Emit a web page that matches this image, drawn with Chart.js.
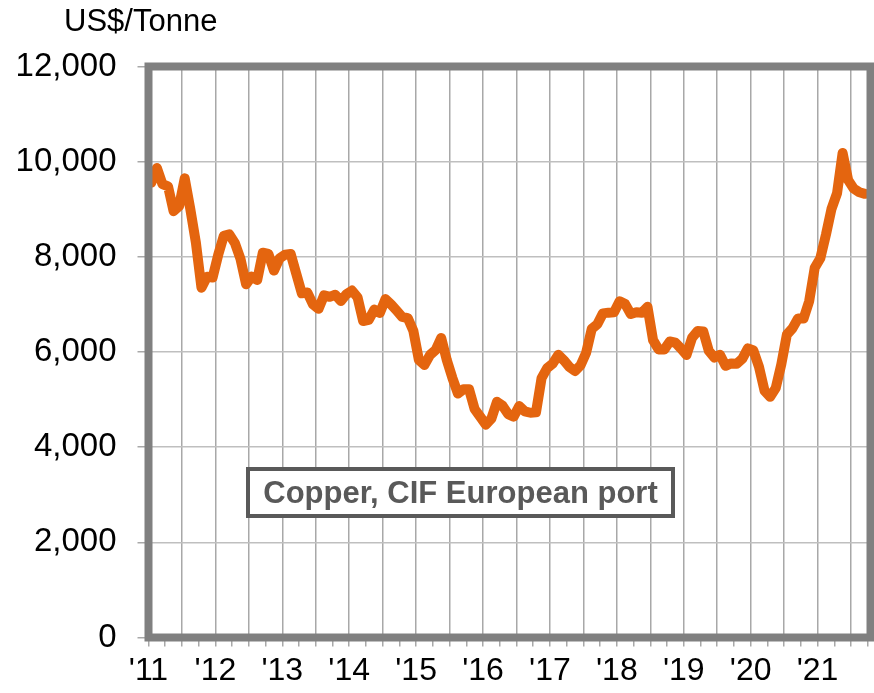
<!DOCTYPE html>
<html>
<head>
<meta charset="utf-8">
<script src="https://cdn.jsdelivr.net/npm/chart.js@4"></script>
<style>
  html, body { margin: 0; padding: 0; background: #fff; }
  canvas { display: block; }
</style>
</head>
<body>
<canvas id="copperChart" width="874" height="693"></canvas>
<script>
// monthly copper price, US$/tonne, Jan 2011 - Sep 2021
const prices2011 = [9556, 9868, 9530, 9483, 8960, 9067, 9650, 9001, 8300, 7350, 7581, 7566];
const prices2012 = [8040, 8441, 8471, 8289, 7956, 7423, 7584, 7515, 8088, 8062, 7711, 7967];
const prices2013 = [8047, 8061, 7646, 7234, 7249, 7000, 6907, 7193, 7159, 7203, 7071, 7215];
const prices2014 = [7291, 7149, 6650, 6674, 6891, 6821, 7113, 7002, 6872, 6737, 6713, 6446];
const prices2015 = [5831, 5729, 5940, 6042, 6295, 5833, 5457, 5127, 5217, 5216, 4800, 4639];
const prices2016 = [4472, 4599, 4954, 4873, 4695, 4642, 4864, 4752, 4723, 4731, 5450, 5660];
const prices2017 = [5755, 5941, 5825, 5685, 5599, 5720, 5985, 6485, 6584, 6812, 6827, 6834];
const prices2018 = [7066, 7007, 6799, 6836, 6825, 6950, 6249, 6052, 6051, 6221, 6197, 6073];
const prices2019 = [5939, 6301, 6439, 6433, 6024, 5883, 5941, 5709, 5759, 5751, 5857, 6077];
const prices2020 = [6031, 5687, 5183, 5058, 5240, 5741, 6364, 6497, 6705, 6704, 7068, 7772];
const prices2021 = [7971, 8461, 9005, 9336, 10184, 9612, 9433, 9357, 9324];

const yearLabels = ["'11", "'12", "'13", "'14", "'15", "'16", "'17", "'18", "'19", "'20", "'21"];
const yTicks = [0, 2000, 4000, 6000, 8000, 10000, 12000];
const seriesName = 'Copper, CIF European port';
const unitLabel = 'US$/Tonne';

const prices = [].concat(prices2011, prices2012, prices2013, prices2014, prices2015,
  prices2016, prices2017, prices2018, prices2019, prices2020, prices2021);

// points sit in the middle of their month
const points = prices.map((v, i) => ({ x: i + 0.5, y: v }));

const FONT = "'Liberation Sans', Arial, sans-serif";

// thick grey frame, unit label and the boxed series name
const framePlugin = {
  id: 'frame',
  afterDatasetsDraw(chart) {
    const { ctx, chartArea: a } = chart;
    ctx.save();
    ctx.strokeStyle = '#808080';
    ctx.lineWidth = 8;
    ctx.strokeRect(a.left, a.top, a.right - a.left, a.bottom - a.top);

    ctx.fillStyle = '#000';
    ctx.font = '31px ' + FONT;
    ctx.textBaseline = 'middle';
    ctx.textAlign = 'left';
    ctx.fillText(unitLabel, 64, 22);

    ctx.fillStyle = '#fff';
    ctx.fillRect(248, 469, 425, 47);
    ctx.strokeStyle = '#595959';
    ctx.lineWidth = 4;
    ctx.strokeRect(248, 469, 425, 47);
    ctx.fillStyle = '#595959';
    ctx.font = 'bold 31px ' + FONT;
    ctx.textAlign = 'center';
    ctx.fillText(seriesName, 460.5, 494);
    ctx.restore();
  }
};

const ctx = document.getElementById('copperChart').getContext('2d');
new Chart(ctx, {
  type: 'line',
  data: {
    datasets: [{
      label: seriesName,
      data: points,
      borderColor: '#E4650F',
      borderWidth: 10,
      pointRadius: 0,
      tension: 0,
      borderJoinStyle: 'round',
      borderCapStyle: 'round',
      fill: false
    }]
  },
  options: {
    responsive: false,
    animation: false,
    layout: { padding: { top: 66.5, right: 3.5, left: 0, bottom: 0 } },
    plugins: {
      legend: { display: false },
      tooltip: { enabled: false }
    },
    scales: {
      x: {
        type: 'linear',
        min: 0,
        max: 129.5,
        afterFit: (s) => { s.height = 55.5; },
        border: { display: false },
        grid: {
          color: (c) => (c.tick && c.tick.value % 6 === 0) ? '#a8a8a8' : 'rgba(0,0,0,0)',
          lineWidth: 1.5,
          tickColor: '#a8a8a8',
          tickLength: 9
        },
        ticks: {
          stepSize: 3,
          autoSkip: false,
          maxRotation: 0,
          includeBounds: false,
          padding: 5,
          color: '#000',
          font: { family: FONT, size: 32 },
          callback: (v) => v % 12 === 0 ? yearLabels[v / 12] : ''
        }
      },
      y: {
        min: yTicks[0],
        max: yTicks[yTicks.length - 1],
        afterFit: (s) => { s.width = 148.5; },
        afterBuildTicks: (s) => { s.ticks = yTicks.map(v => ({ value: v })); },
        border: { display: false },
        grid: {
          color: '#bfbfbf',
          lineWidth: 1.5,
          tickColor: '#a8a8a8',
          tickLength: 11
        },
        ticks: {
          padding: 21,
          color: '#000',
          font: { family: FONT, size: 33 },
          callback: (v) => v.toLocaleString('en-US')
        }
      }
    }
  },
  plugins: [framePlugin]
});
</script>
</body>
</html>
